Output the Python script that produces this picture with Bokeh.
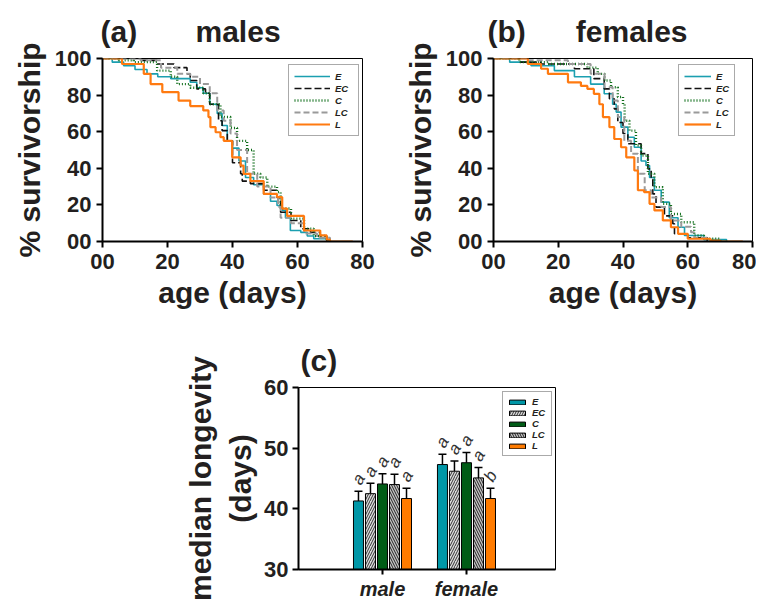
from bokeh.plotting import figure
from bokeh.models import (Range1d, FixedTicker, Legend, LegendItem,
                          Whisker, TeeHead, ColumnDataSource)
from bokeh.layouts import column, row
from bokeh.embed import file_html
from bokeh.resources import INLINE
from bokeh.core.properties import value

FONT = "Liberation Sans"
TXT = "#231f20"
NB = "\u00a0"

series = ["E", "EC", "C", "LC", "L"]
x_ticks = [0, 20, 40, 60, 80]
y_ticks = [0, 20, 40, 60, 80, 100]

# ---------------- (a) males : survivorship step data ----------------
m_E_age = [0, 3, 6.5, 10, 13.7, 17, 21, 27, 29, 31, 33, 35.3, 36.8, 38.4, 40, 42, 44, 46.5, 49.6, 51.7, 53.7, 55.3, 56.3, 57.8, 61, 63, 65, 69, 70]
m_E_srv = [100, 98, 96, 94, 91.6, 90, 89, 87, 84, 81, 75, 70, 63.4, 55, 51, 44, 35, 31, 26, 22, 19.7, 17, 13, 6, 5, 3, 1.5, 0.5, 0]
m_EC_age = [0, 11.7, 16.8, 22, 26, 27, 29, 31.7, 33, 35.7, 36.8, 38.4, 40, 42.5, 43, 45.5, 49.6, 53.7, 54.8, 58, 61, 64, 67, 69, 70]
m_EC_srv = [100, 99, 97, 95, 91.6, 88, 83.4, 81, 75, 66, 60.6, 55, 43, 37, 33, 31.6, 28, 24, 16, 11.5, 7, 5, 2.7, 0.5, 0]
m_C_age = [0, 5, 9.6, 16.8, 21, 23, 27, 31, 33, 36.3, 39.4, 41.4, 44.5, 46.5, 48.6, 50.7, 53.7, 54.8, 58, 62, 65, 69]
m_C_srv = [100, 99, 98, 93.4, 90, 86, 84, 81, 75, 68, 62, 55, 50, 37, 35, 30, 27, 18, 12.5, 7, 3, 0]
m_LC_age = [0, 11.7, 18, 23, 27, 30, 33, 35.3, 37.3, 39.4, 41.4, 44.5, 47.6, 51.7, 54, 54.8, 58, 62, 66, 70]
m_LC_srv = [100, 99, 95, 91.6, 90, 86, 81, 71.6, 66, 59, 50, 37, 30, 24, 19, 13, 10, 4.4, 2, 0]
m_L_age = [0, 1, 6, 12.7, 14.8, 18.4, 23.4, 27, 31, 32.6, 33.2, 34.8, 36.3, 37.3, 39.9, 42.5, 43.4, 45.5, 49.6, 53.7, 55.3, 56.8, 62, 67, 69, 70, 77]
m_L_srv = [100, 100, 97, 91.6, 86, 81.6, 77, 74, 71.6, 68, 62.5, 59.7, 57, 55, 46, 41.5, 37, 33, 26, 24.2, 18, 14, 6, 3.3, 1, 0, 0]

# ---------------- (b) females : survivorship step data ----------------
f_E_age = [0, 5, 11.6, 18.8, 25, 30, 34.2, 36.8, 37.9, 39.4, 41.5, 43.5, 45.6, 47.1, 48.2, 49.7, 51.8, 54.3, 57, 59, 65, 72]
f_E_srv = [100, 98, 96, 93.4, 90, 86, 80.7, 75, 70.7, 62.5, 57, 51.5, 44, 41.5, 35, 28, 21.5, 13, 7.8, 3.3, 1, 0]
f_EC_age = [0, 8, 14.7, 25, 31, 34.2, 35.8, 37.3, 38.4, 40, 41.5, 45.6, 47.7, 48.7, 49.2, 50.2, 52.8, 55.4, 55.9, 60, 66]
f_EC_srv = [100, 98, 97, 94.4, 89, 83.4, 78, 72.5, 65, 59, 53.4, 48, 39.7, 34, 26, 18.8, 14, 9.7, 4.2, 2, 0]
f_C_age = [0, 8, 16.8, 29, 32.2, 34.3, 36.3, 38.4, 40, 40.5, 42, 44, 45.6, 47.7, 49.7, 52.3, 54.8, 58, 62, 65, 70]
f_C_srv = [100, 98, 97, 95, 91.6, 88, 84.3, 79, 75, 66, 60.6, 52.5, 47, 37, 29.7, 20.6, 15, 10.5, 3.3, 1.5, 0]
f_LC_age = [0, 10, 23, 30, 34.3, 36.8, 38.4, 40.4, 42.5, 44.6, 46.7, 48.7, 51.8, 54.8, 58, 61, 62, 66]
f_LC_srv = [100, 99, 97, 91.6, 84.3, 77, 68, 55, 48, 37, 28, 24, 18.8, 11.5, 8, 5, 2, 0]
f_L_age = [0, 10.6, 14.7, 16.8, 23, 27, 29, 31, 32.7, 33.8, 35.8, 37.3, 39.4, 41, 43.5, 44.6, 46.5, 48.2, 49.7, 52.3, 54.8, 57, 60, 67, 70, 77]
f_L_srv = [100, 97, 94.4, 91.6, 87, 85, 83.4, 80.7, 75, 68, 62.5, 56, 51.5, 46, 38.8, 28, 27, 20.6, 17, 11.5, 7.8, 4.2, 1.5, 0.5, 0, 0]

# ---------------- (c) median longevity ----------------
groups = ["male", "female"]
male_median = [41.3, 42.5, 44.1, 44.0, 41.7]
male_sem = [1.6, 1.7, 1.7, 1.7, 1.7]
female_median = [47.3, 46.2, 47.6, 45.1, 41.7]
female_sem = [1.7, 1.7, 1.7, 1.7, 1.7]
male_letters = ["a", "a", "a", "a", "a"]
female_letters = ["a", "a", "a", "a", "b"]
yc_ticks = [30, 40, 50, 60]

line_styles = {
    "E": dict(line_color="#1b9fb0", line_width=1.6, line_dash="solid"),
    "EC": dict(line_color="#111111", line_width=1.6, line_dash="7 3"),
    "C": dict(line_color="#0f6e1a", line_width=2.4, line_dash="1 2"),
    "LC": dict(line_color="#9a9a9a", line_width=2, line_dash="6 3"),
    "L": dict(line_color="#ff7a10", line_width=2.2, line_dash="solid"),
}
bar_styles = {
    "E": dict(fill_color="#0097a7"),
    "EC": dict(fill_color="#dcdcdc", hatch_pattern="/", hatch_color="#333333", hatch_scale=5, hatch_weight=1),
    "C": dict(fill_color="#005c16"),
    "LC": dict(fill_color="#c4c4c4", hatch_pattern="\\", hatch_color="#222222", hatch_scale=5, hatch_weight=1),
    "L": dict(fill_color="#ff7b00"),
}


def style_axes(p, tick_size="22px"):
    p.xgrid.visible = False
    p.ygrid.visible = False
    p.outline_line_color = "black"
    p.outline_line_width = 1
    p.background_fill_color = "white"
    p.border_fill_color = "white"
    for ax in (p.xaxis, p.yaxis):
        ax.axis_line_width = 2
        ax.axis_line_color = "black"
        ax.major_tick_line_width = 2
        ax.major_tick_line_color = "black"
        ax.major_tick_in = 0
        ax.major_tick_out = 6
        ax.minor_tick_line_color = None
        ax.major_label_text_font = FONT
        ax.major_label_text_font_style = "bold"
        ax.major_label_text_font_size = tick_size
        ax.major_label_text_color = TXT
        ax.axis_label_text_font = FONT
        ax.axis_label_text_font_style = "bold"
        ax.axis_label_text_font_size = "30px"
        ax.axis_label_text_color = TXT


def set_title(p, text, offset):
    p.title.text = text
    p.title.align = "left"
    p.title.offset = offset
    p.title.standoff = 21
    p.title.text_font = FONT
    p.title.text_font_size = "30px"
    p.title.text_font_style = "bold"
    p.title.text_color = TXT


def surv_fig(width, bl, br, data, title, t_off, gw, lw, lx):
    p = figure(width=width, height=321, x_range=Range1d(0, 80), y_range=Range1d(0, 100),
               output_backend="svg", toolbar_location=None,
               min_border_left=bl, min_border_right=br, min_border_top=58, min_border_bottom=80)
    style_axes(p)
    p.xaxis.ticker = FixedTicker(ticks=x_ticks)
    p.yaxis.ticker = FixedTicker(ticks=y_ticks)
    p.xaxis.major_label_overrides = {0: "00"}
    p.yaxis.major_label_overrides = {0: "00"}
    p.xaxis.major_label_standoff = 6
    p.yaxis.major_label_standoff = 5
    p.xaxis.axis_label = "age (days)"
    p.yaxis.axis_label = "% survivorship"
    p.xaxis.axis_label_standoff = 4
    p.yaxis.axis_label_standoff = 6
    items = []
    for s in series:
        ages, srv = data[s]
        r = p.step(x=ages, y=srv, mode="after", **line_styles[s])
        items.append(LegendItem(label=s, renderers=[r]))
    leg = Legend(items=items, location=(lx, 105), margin=0, padding=5, spacing=0,
                 glyph_width=gw, glyph_height=12, label_height=12, label_width=lw,
                 label_standoff=5, label_text_font=FONT, label_text_font_style="bold italic",
                 label_text_font_size="9.5px", label_text_color=TXT,
                 border_line_color="#555555", border_line_width=1,
                 background_fill_color="white", background_fill_alpha=1)
    p.add_layout(leg)
    set_title(p, title, t_off)
    return p


males = {"E": (m_E_age, m_E_srv), "EC": (m_EC_age, m_EC_srv), "C": (m_C_age, m_C_srv),
         "LC": (m_LC_age, m_LC_srv), "L": (m_L_age, m_L_srv)}
females = {"E": (f_E_age, f_E_srv), "EC": (f_EC_age, f_EC_srv), "C": (f_C_age, f_C_srv),
           "LC": (f_LC_age, f_LC_srv), "L": (f_L_age, f_L_srv)}

pa = surv_fig(380, 102, 18, males, "(a)" + NB * 7 + "males", -2, 36, 18, 186)
pb = surv_fig(376, 113, 4, females, "(b)" + NB * 6 + "females", -6, 27, 13, 185)

# ---------------- (c) bar chart ----------------
pc = figure(width=565, height=285, x_range=Range1d(0, 3.06), y_range=Range1d(30, 60),
            output_backend="svg", toolbar_location=None,
            min_border_left=298, min_border_right=10, min_border_top=66, min_border_bottom=37)
style_axes(pc)
set_title(pc, "(c)", 2)
pc.xaxis.ticker = FixedTicker(ticks=[1, 2])
pc.xaxis.major_label_overrides = {1: groups[0], 2: groups[1]}
pc.xaxis.major_label_text_font_style = "bold italic"
pc.xaxis.major_label_text_font_size = "20px"
pc.xaxis.major_tick_out = 5
pc.xaxis.major_label_standoff = 3
pc.yaxis.ticker = FixedTicker(ticks=yc_ticks)
pc.yaxis.major_label_standoff = 4
pc.yaxis.axis_label = "median longevity\n(days)"
pc.yaxis.axis_label_standoff = 4

step = 0.143
bw = 0.119
citems = []
for i, s in enumerate(series):
    off = (i - 2) * step
    src = ColumnDataSource(dict(
        x=[1 + off, 2 + off],
        top=[male_median[i], female_median[i]],
        upper=[male_median[i] + male_sem[i], female_median[i] + female_sem[i]],
        letter=[male_letters[i], female_letters[i]],
    ))
    r = pc.vbar(x="x", top="top", bottom=30, width=bw, source=src,
                line_color="black", line_width=1, **bar_styles[s])
    citems.append(LegendItem(label=s, renderers=[r]))
    pc.add_layout(Whisker(base="x", lower="top", upper="upper", source=src, dimension="height",
                          line_color="black", line_width=1.5, lower_head=None,
                          upper_head=TeeHead(size=8, line_width=1.5, line_color="black")))
    pc.text(x="x", y="upper", text="letter", source=src, angle=1.05, y_offset=-12,
            text_align="center", text_baseline="middle", text_font=value(FONT),
            text_font_style="italic", text_font_size="17px", text_color="#333333")

legc = Legend(items=citems, location=(204, 113), margin=0, padding=4, spacing=0,
              glyph_width=20, glyph_height=6, label_height=11, label_width=15,
              label_standoff=5, label_text_font=FONT, label_text_font_style="bold italic",
              label_text_font_size="9.5px", label_text_color=TXT,
              border_line_color="#555555", border_line_width=1,
              background_fill_color="white", background_fill_alpha=1)
pc.add_layout(legc)

layout = column(row(pa, pb), pc)
open("out.html", "w").write(file_html(layout, INLINE))
